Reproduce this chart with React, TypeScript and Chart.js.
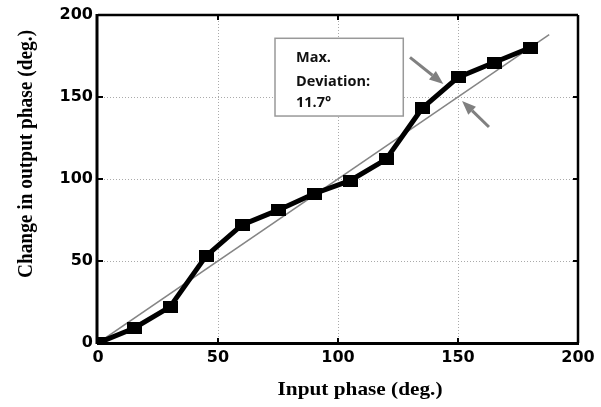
import React, { useEffect, useRef } from "react";
import { Chart, registerables } from "chart.js";

Chart.register(...registerables);

const inputPhase = [0, 15, 30, 45, 60, 75, 90, 105, 120, 135, 150, 165, 180];
const outputPhase = [0, 9, 22, 53, 72, 81, 91, 99, 112, 143, 162, 171, 180];
const idealX = [0, 188];
const idealY = [0, 188];
const xTicks = [0, 50, 100, 150, 200];
const yTicks = [0, 50, 100, 150, 200];
const annotationLines = ["Max.", "Deviation:", "11.7°"];
const xTitle = "Input phase (deg.)";
const yTitle = "Change in output phase (deg.)";

function drawArrow(ctx: CanvasRenderingContext2D, x1: number, y1: number, x2: number, y2: number) {
  const ang = Math.atan2(y2 - y1, x2 - x1);
  const headLen = 14;
  const headW = 5.5;
  const bx = x2 - headLen * Math.cos(ang);
  const by = y2 - headLen * Math.sin(ang);
  ctx.beginPath();
  ctx.moveTo(x1, y1);
  ctx.lineTo(bx, by);
  ctx.stroke();
  ctx.beginPath();
  ctx.moveTo(x2, y2);
  ctx.lineTo(bx + headW * Math.sin(ang), by - headW * Math.cos(ang));
  ctx.lineTo(bx - headW * Math.sin(ang), by + headW * Math.cos(ang));
  ctx.closePath();
  ctx.fill();
}

const decor = {
  id: "decor",
  beforeDatasetsDraw(chart: any) {
    const { ctx, chartArea: a, scales } = chart;
    const x = scales.x;
    const y = scales.y;
    ctx.save();
    ctx.strokeStyle = "#000";
    ctx.lineWidth = 2;
    const seg = (x1: number, y1: number, x2: number, y2: number) => {
      ctx.beginPath();
      ctx.moveTo(x1, y1);
      ctx.lineTo(x2, y2);
      ctx.stroke();
    };
    xTicks.slice(1, -1).forEach((t) => {
      const px = x.getPixelForValue(t);
      seg(px, a.bottom, px, a.bottom - 5);
      seg(px, a.top, px, a.top + 5);
    });
    yTicks.slice(1, -1).forEach((t) => {
      const py = y.getPixelForValue(t);
      seg(a.left, py, a.left + 5, py);
      seg(a.right, py, a.right - 5, py);
    });
    ctx.lineWidth = 2.5;
    seg(a.left, a.top, a.right, a.top);
    seg(a.right, a.top, a.right, a.bottom);
    ctx.lineWidth = 3;
    seg(a.left - 1, a.top - 1, a.left - 1, a.bottom + 1);
    seg(a.left - 1, a.bottom + 0.5, a.right + 1, a.bottom + 0.5);
    ctx.restore();
  },
  afterDraw(chart: any) {
    const { ctx, scales } = chart;
    const x = scales.x;
    const y = scales.y;
    ctx.save();
    // axis titles
    ctx.fillStyle = "#000";
    ctx.font = "bold 19px 'Liberation Serif'";
    ctx.textAlign = "center";
    ctx.textBaseline = "middle";
    ctx.save();
    ctx.translate(360, 390);
    ctx.scale(1.12, 1);
    ctx.fillText(xTitle, 0, 0);
    ctx.restore();
    ctx.save();
    ctx.translate(27, 154);
    ctx.rotate(-Math.PI / 2);
    ctx.scale(1.02, 1.05);
    ctx.fillText(yTitle, 0, 0);
    ctx.restore();

    // annotation box
    const bx1 = x.getPixelForValue(73.75);
    const by1 = y.getPixelForValue(185.8);
    const bx2 = x.getPixelForValue(127.2);
    const by2 = y.getPixelForValue(138.4);
    ctx.fillStyle = "#fff";
    ctx.fillRect(bx1, by1, bx2 - bx1, by2 - by1);
    ctx.strokeStyle = "#999";
    ctx.lineWidth = 1.5;
    ctx.strokeRect(bx1, by1, bx2 - bx1, by2 - by1);
    ctx.fillStyle = "#111";
    ctx.font = "bold 14.5px 'Open Sans'";
    ctx.textAlign = "left";
    const offs = [20, 43.5, 65];
    annotationLines.forEach((s, i) => ctx.fillText(s, bx1 + 21, by1 + offs[i]));

    // arrows
    ctx.strokeStyle = "#808080";
    ctx.fillStyle = "#808080";
    ctx.lineWidth = 3;
    drawArrow(ctx, x.getPixelForValue(130), y.getPixelForValue(174.2), x.getPixelForValue(143.9), y.getPixelForValue(157.9));
    drawArrow(ctx, x.getPixelForValue(162.9), y.getPixelForValue(131.7), x.getPixelForValue(151.7), y.getPixelForValue(147.6));
    ctx.restore();
  },
};

export default function App() {
  const ref = useRef<HTMLCanvasElement>(null);
  useEffect(() => {
    if (!ref.current) return;
    const marker = document.createElement("canvas");
    marker.width = 15;
    marker.height = 12;
    const mc = marker.getContext("2d")!;
    mc.fillStyle = "#000";
    mc.fillRect(0, 0, 15, 12);

    const gridColor = (c: any) =>
      c.tick && (c.tick.value === 0 || c.tick.value === 200) ? "rgba(0,0,0,0)" : "#aaaaaa";
    const tickFont = { family: "'DejaVu Sans'", weight: "bold" as const, size: 16 };

    const chart = new Chart(ref.current, {
      type: "line",
      data: {
        datasets: [
          {
            data: inputPhase.map((v, i) => ({ x: v, y: outputPhase[i] })),
            borderColor: "#000",
            backgroundColor: "#000",
            borderWidth: 5,
            pointStyle: marker as any,
            pointRadius: 7,
            tension: 0,
          },
          {
            data: idealX.map((v, i) => ({ x: v, y: idealY[i] })),
            borderColor: "#858585",
            borderWidth: 1.5,
            pointRadius: 0,
            tension: 0,
          },
        ],
      },
      options: {
        responsive: false,
        animation: false,
        layout: { padding: { left: 0, right: 23, top: 15, bottom: 0 } },
        plugins: { legend: { display: false }, tooltip: { enabled: false } },
        scales: {
          x: {
            type: "linear",
            min: 0,
            max: 200,
            afterBuildTicks: (s: any) => {
              s.ticks = xTicks.map((v) => ({ value: v }));
            },
            afterFit: (s: any) => {
              s.height = 64;
            },
            grid: { color: gridColor, lineWidth: 1, drawTicks: false },
            border: { display: false, dash: [1, 2] },
            ticks: { color: "#000", font: tickFont, padding: 5, maxRotation: 0 },
          },
          y: {
            type: "linear",
            min: 0,
            max: 200,
            afterBuildTicks: (s: any) => {
              s.ticks = yTicks.map((v) => ({ value: v }));
            },
            afterFit: (s: any) => {
              s.width = 98;
            },
            grid: { color: gridColor, lineWidth: 1, drawTicks: false },
            border: { display: false, dash: [1, 2] },
            ticks: { color: "#000", font: tickFont, padding: 5 },
          },
        },
      },
      plugins: [decor],
    });
    return () => chart.destroy();
  }, []);
  return (
    <div style={{ position: "absolute", left: 0, top: 0, width: 601, height: 407, background: "#fff" }}>
      <canvas ref={ref} width={601} height={407} style={{ display: "block" }} />
    </div>
  );
}
